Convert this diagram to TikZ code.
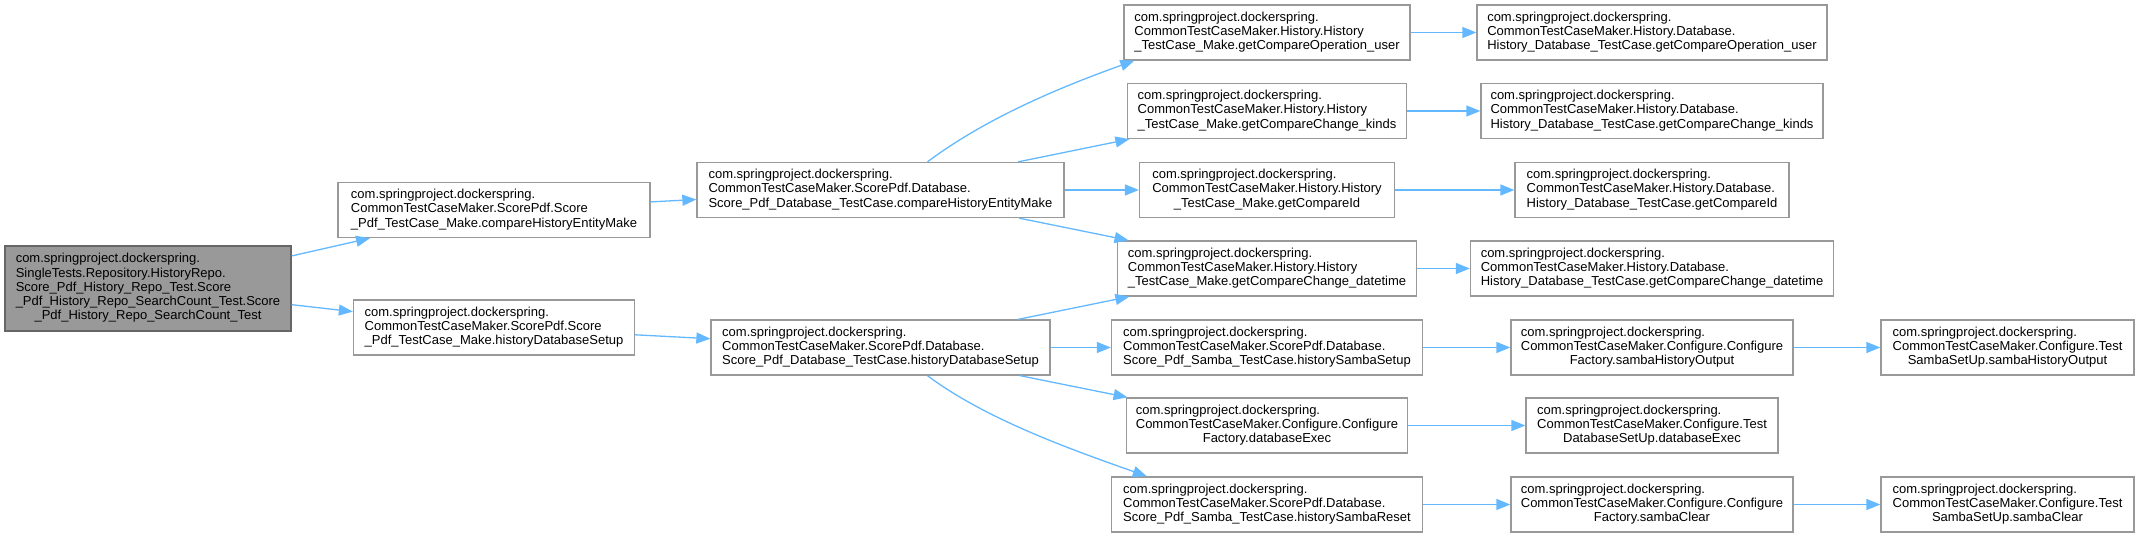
\documentclass[tikz,border=0pt]{standalone}
\usepackage{fontspec}
\setmainfont{Liberation Sans}
\usetikzlibrary{arrows.meta}

% label of a method box: left lines, last line centred
\newcommand{\fnlabel}[2]{\begin{tabular}{@{}l@{}}#1\\\multicolumn{1}{@{}c@{}}{#2}\end{tabular}}

\begin{document}
\begin{tikzpicture}[x=1pt,y=-1pt,
    fn/.style={draw=fgray, fill=white, line width=1.3pt, inner sep=0pt,
      minimum height=55pt, font=\fontsize{13}{14.2}\selectfont},
    edge/.style={->, color=eblue, line width=1.3pt},
    >={Triangle[length=14pt,width=11pt]}]
\definecolor{eblue}{HTML}{63B8FF}
\definecolor{fgray}{HTML}{999999}
\definecolor{rgray}{HTML}{666666}
\definecolor{rfill}{HTML}{999999}
\useasboundingbox (0,0) rectangle (2139,537);

\def\xM{494} \def\xD{880.5} \def\xH{1267} \def\xK{1652} \def\xU{2007.5}

\node[fn, fill=rfill, draw=rgray, minimum width=286pt, minimum height=85pt] (T) at (148,288.5)
  {\fnlabel{com.springproject.dockerspring.\\SingleTests.Repository.HistoryRepo.\\Score\_Pdf\_History\_Repo\_Test.Score\\\_Pdf\_History\_Repo\_SearchCount\_Test.Score}{\_Pdf\_History\_Repo\_SearchCount\_Test}};

\node[fn, minimum width=312pt] (M1) at (\xM,210)
  {\fnlabel{com.springproject.dockerspring.\\CommonTestCaseMaker.ScorePdf.Score}{\_Pdf\_TestCase\_Make.compareHistoryEntityMake}};
\node[fn, minimum width=281pt] (M2) at (\xM,327.5)
  {\fnlabel{com.springproject.dockerspring.\\CommonTestCaseMaker.ScorePdf.Score}{\_Pdf\_TestCase\_Make.historyDatabaseSetup}};

\node[fn, minimum width=367pt] (D1) at (\xD,190)
  {\fnlabel{com.springproject.dockerspring.\\CommonTestCaseMaker.ScorePdf.Database.}{Score\_Pdf\_Database\_TestCase.compareHistoryEntityMake}};
\node[fn, minimum width=339pt] (D2) at (\xD,347.5)
  {\fnlabel{com.springproject.dockerspring.\\CommonTestCaseMaker.ScorePdf.Database.}{Score\_Pdf\_Database\_TestCase.historyDatabaseSetup}};

% callees of the database test cases
\node[fn, minimum width=286pt] (H1) at (\xH,32.5)
  {\fnlabel{com.springproject.dockerspring.\\CommonTestCaseMaker.History.History}{\_TestCase\_Make.getCompareOperation\_user}};
\node[fn, minimum width=279pt] (H2) at (\xH,111)
  {\fnlabel{com.springproject.dockerspring.\\CommonTestCaseMaker.History.History}{\_TestCase\_Make.getCompareChange\_kinds}};
\node[fn, minimum width=255pt] (H3) at (\xH,190)
  {\fnlabel{com.springproject.dockerspring.\\CommonTestCaseMaker.History.History}{\_TestCase\_Make.getCompareId}};
\node[fn, minimum width=299pt] (H4) at (\xH,268.5)
  {\fnlabel{com.springproject.dockerspring.\\CommonTestCaseMaker.History.History}{\_TestCase\_Make.getCompareChange\_datetime}};
\node[fn, minimum width=311pt] (H5) at (\xH,347.5)
  {\fnlabel{com.springproject.dockerspring.\\CommonTestCaseMaker.ScorePdf.Database.}{Score\_Pdf\_Samba\_TestCase.historySambaSetup}};
\node[fn, minimum width=281pt] (H6) at (\xH,425.5)
  {\fnlabel{com.springproject.dockerspring.\\CommonTestCaseMaker.Configure.Configure}{Factory.databaseExec}};
\node[fn, minimum width=311pt] (H7) at (\xH,504.5)
  {\fnlabel{com.springproject.dockerspring.\\CommonTestCaseMaker.ScorePdf.Database.}{Score\_Pdf\_Samba\_TestCase.historySambaReset}};

\node[fn, minimum width=350pt] (K1) at (\xK,32.5)
  {\fnlabel{com.springproject.dockerspring.\\CommonTestCaseMaker.History.Database.}{History\_Database\_TestCase.getCompareOperation\_user}};
\node[fn, minimum width=342pt] (K2) at (\xK,111)
  {\fnlabel{com.springproject.dockerspring.\\CommonTestCaseMaker.History.Database.}{History\_Database\_TestCase.getCompareChange\_kinds}};
\node[fn, minimum width=274pt] (K3) at (\xK,190)
  {\fnlabel{com.springproject.dockerspring.\\CommonTestCaseMaker.History.Database.}{History\_Database\_TestCase.getCompareId}};
\node[fn, minimum width=363pt] (K4) at (\xK,268.5)
  {\fnlabel{com.springproject.dockerspring.\\CommonTestCaseMaker.History.Database.}{History\_Database\_TestCase.getCompareChange\_datetime}};
\node[fn, minimum width=282pt] (K5) at (\xK,347.5)
  {\fnlabel{com.springproject.dockerspring.\\CommonTestCaseMaker.Configure.Configure}{Factory.sambaHistoryOutput}};
\node[fn, minimum width=252pt] (K6) at (\xK,425.5)
  {\fnlabel{com.springproject.dockerspring.\\CommonTestCaseMaker.Configure.Test}{DatabaseSetUp.databaseExec}};
\node[fn, minimum width=282pt] (K7) at (\xK,504.5)
  {\fnlabel{com.springproject.dockerspring.\\CommonTestCaseMaker.Configure.Configure}{Factory.sambaClear}};

\node[fn, minimum width=253pt] (U1) at (\xU,347.5)
  {\fnlabel{com.springproject.dockerspring.\\CommonTestCaseMaker.Configure.Test}{SambaSetUp.sambaHistoryOutput}};
\node[fn, minimum width=253pt] (U2) at (\xU,504.5)
  {\fnlabel{com.springproject.dockerspring.\\CommonTestCaseMaker.Configure.Test}{SambaSetUp.sambaClear}};

% calls
\draw[edge] (T) -- (M1);
\draw[edge] (T) -- (M2);
\draw[edge] (M1) -- (D1);
\draw[edge] (M2) -- (D2);
\draw[edge] ([xshift=47pt]D1.north) .. controls +(60,-45) and +(-70,25) .. ([xshift=11pt]H1.south west);
\foreach \n in {H2,H3,H4}
  \draw[edge] (D1) -- (\n);
\foreach \n in {H4,H5,H6}
  \draw[edge] (D2) -- (\n);
\draw[edge] ([xshift=47pt]D2.south) .. controls +(60,45) and +(-70,-25) .. ([xshift=36pt]H7.north west);
\foreach \i in {1,...,7}
  \draw[edge] (H\i) -- (K\i);
\draw[edge] (K5) -- (U1);
\draw[edge] (K7) -- (U2);
\end{tikzpicture}
\end{document}
